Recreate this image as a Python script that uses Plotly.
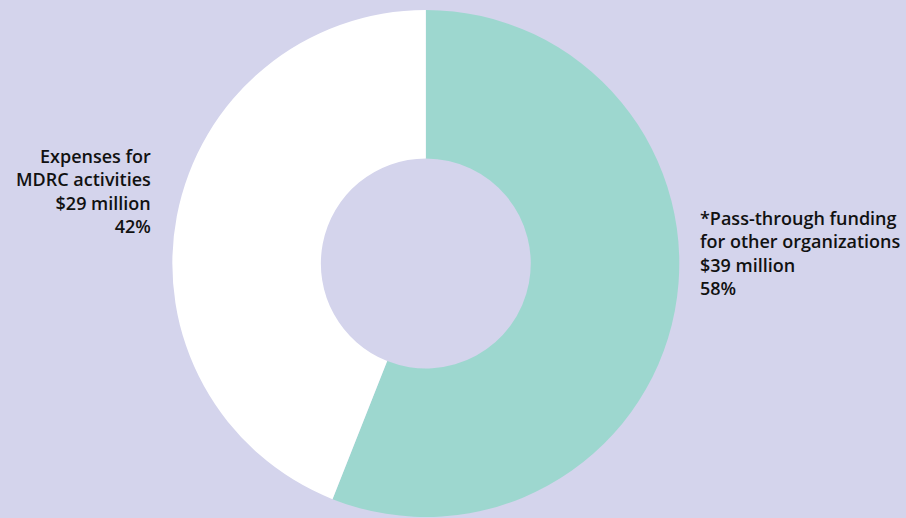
import plotly.graph_objects as go

labels = ["*Pass-through funding for other organizations", "Expenses for MDRC activities"]
values = [56, 44]
colors = ["#9DD7CF", "#FFFFFF"]
left_label = ["Expenses for", "MDRC activities", "$29 million", "42%"]
right_label = ["*Pass-through funding", "for other organizations", "$39 million", "58%"]

BG = "#D4D4EC"
W, H = 906, 518

fig = go.Figure(go.Pie(
    labels=labels, values=values, hole=0.414, sort=False, direction="clockwise",
    rotation=0, marker=dict(colors=colors, line=dict(width=0)),
    textinfo="none", hoverinfo="none", showlegend=False,
    domain=dict(x=[0, 0.940], y=[0.002, 0.9807]),
))

font = dict(family="Open Sans, sans-serif", size=18, color="#111111", weight=650)
fig.add_annotation(text="<br>".join(left_label), x=153 / W, y=1 - 191 / H,
                   xref="paper", yref="paper", showarrow=False,
                   xanchor="right", yanchor="middle", align="right", font=font)
fig.add_annotation(text="<br>".join(right_label), x=698 / W, y=1 - 253 / H,
                   xref="paper", yref="paper", showarrow=False,
                   xanchor="left", yanchor="middle", align="left", font=font)

fig.update_layout(width=W, height=H, margin=dict(l=0, r=0, t=0, b=0),
                  paper_bgcolor=BG, plot_bgcolor=BG)
fig.write_html("out.html")
